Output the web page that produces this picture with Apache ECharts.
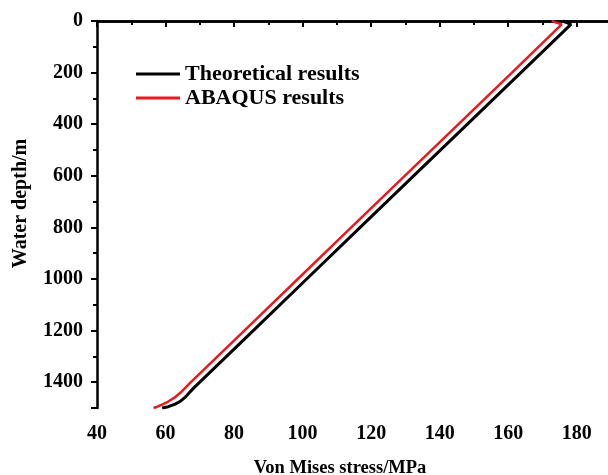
<!DOCTYPE html>
<html>
<head>
<meta charset="utf-8">
<script src="https://cdn.jsdelivr.net/npm/echarts@6/dist/echarts.min.js"></script>
<style>
html,body{margin:0;padding:0;background:#fff;}
#c{width:608px;height:475px;}
</style>
</head>
<body>
<div id="c"></div>
<script>
// Water depth (m) sample points
const depthTheory = [0, 13, 200, 400, 600, 800, 1000, 1200, 1300, 1400, 1420, 1440, 1460, 1475, 1485, 1495, 1500];
const stressTheory = [176.0, 178.3, 163.7, 148.1, 132.4, 116.8, 101.2, 85.6, 77.8, 70.0, 68.4, 67.0, 65.6, 64.2, 62.8, 60.8, 59.0];
const depthAbaqus = [0, 13, 200, 400, 600, 800, 1000, 1200, 1300, 1400, 1420, 1440, 1460, 1475, 1485, 1495, 1500];
const stressAbaqus = [172.7, 175.6, 161.1, 145.5, 129.8, 114.2, 98.6, 83.0, 75.2, 67.4, 65.9, 64.4, 62.6, 60.8, 59.3, 57.6, 56.5];
const seriesNames = ['Theoretical results', 'ABAQUS results'];
const xTitle = 'Von Mises stress/MPa';
const yTitle = 'Water depth/m';

const font = 'Liberation Serif';
const pairs = (xs, ys) => xs.map((x, i) => [x, ys[i]]);

const chart = echarts.init(document.getElementById('c'), null, {renderer: 'canvas'});
chart.setOption({
  animation: false,
  backgroundColor: '#fff',
  grid: {left: 97, top: 21, right: -3, bottom: 67, containLabel: false, outerBoundsMode: 'none'},
  legend: {
    orient: 'vertical', left: 131, top: 58,
    icon: 'rect', itemWidth: 44, itemHeight: 3, itemGap: 2,
    textStyle: {fontFamily: font, fontWeight: 'bold', fontSize: 22, color: '#000'},
    data: seriesNames
  },
  xAxis: [{
    type: 'value', min: 40, max: 190, interval: 20, position: 'bottom',
    name: xTitle, nameLocation: 'middle', nameGap: 51,
    nameTextStyle: {fontFamily: font, fontWeight: 'bold', fontSize: 18.5, color: '#000', padding: [0, 28, 0, 0]},
    axisLine: {lineStyle: {color: '#000', width: 2.5}},
    axisTick: {inside: false, length: 6, lineStyle: {color: '#000', width: 2}},
    minorTick: {show: true, splitNumber: 2, length: 4, lineStyle: {color: '#000', width: 2}},
    axisLabel: {fontFamily: font, fontWeight: 'bold', fontSize: 20, color: '#000', margin: 16, showMaxLabel: false},
    splitLine: {show: false}
  }, {
    type: 'value', min: 40, max: 190, position: 'top',
    axisLine: {lineStyle: {color: '#000', width: 2.5}},
    axisTick: {show: false}, axisLabel: {show: false}, splitLine: {show: false}
  }],
  yAxis: {
    type: 'value', min: 0, max: 1500, interval: 200, inverse: true,
    name: yTitle, nameLocation: 'middle', nameGap: 66,
    nameTextStyle: {fontFamily: font, fontWeight: 'bold', fontSize: 20, color: '#000', padding: [0, 0, 0, 22]},
    axisLine: {lineStyle: {color: '#000', width: 2.5}},
    axisTick: {inside: false, length: 6, lineStyle: {color: '#000', width: 2}},
    minorTick: {show: true, splitNumber: 2, length: 4, lineStyle: {color: '#000', width: 2}},
    axisLabel: {fontFamily: font, fontWeight: 'bold', fontSize: 20, color: '#000', margin: 14,
      showMaxLabel: false, formatter: v => String(v)},
    splitLine: {show: false}
  },
  series: [{
    name: seriesNames[0], type: 'line', showSymbol: false, symbol: 'none',
    data: pairs(stressTheory, depthTheory),
    lineStyle: {color: '#000', width: 3},
    itemStyle: {color: '#000'}, z: 2
  }, {
    name: seriesNames[1], type: 'line', showSymbol: false, symbol: 'none',
    data: pairs(stressAbaqus, depthAbaqus),
    lineStyle: {color: '#e8191f', width: 2.5},
    itemStyle: {color: '#e8191f'}, z: 3
  }]
});
</script>
</body>
</html>
